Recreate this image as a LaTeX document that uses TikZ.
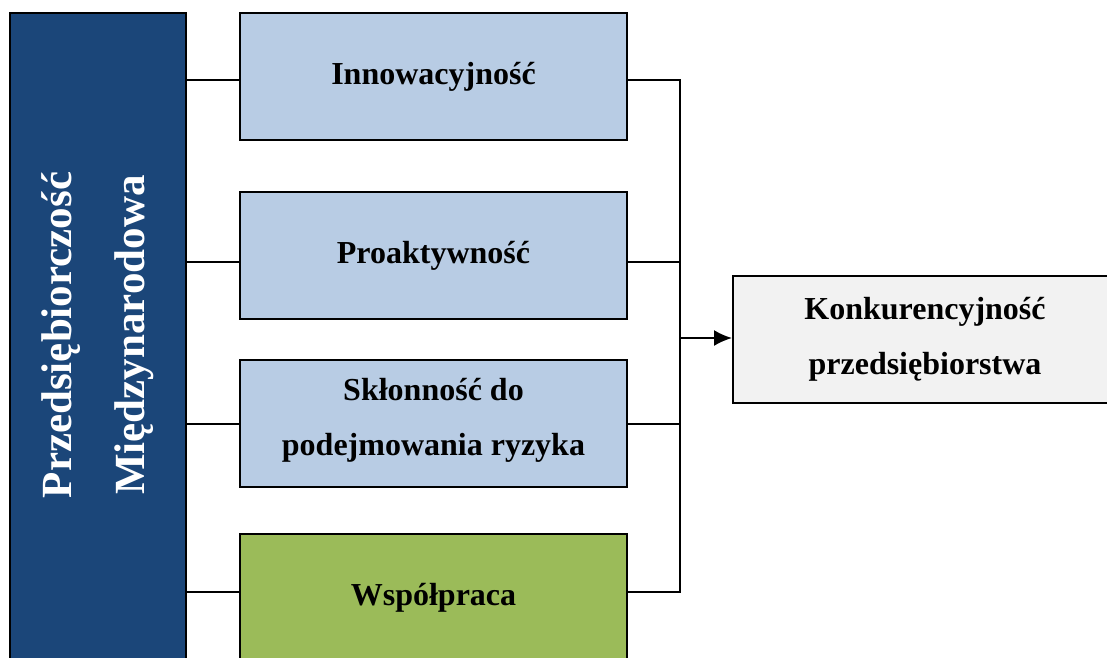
\documentclass[tikz,border=0pt]{standalone}
\usepackage{fontspec}
\setmainfont{Liberation Serif}
\usetikzlibrary{arrows.meta}
\definecolor{darkblue}{HTML}{1B4679}
\definecolor{lightblue}{HTML}{B8CCE4}
\definecolor{olivegreen}{HTML}{9BBB59}
\definecolor{lightgray}{HTML}{F2F2F2}
\tikzset{
  boxfont/.style={font=\fontsize{32}{55}\selectfont\bfseries},
  box/.style={draw=black, line width=2pt, minimum width=387pt, minimum height=127pt, inner sep=0pt, align=center, boxfont},
  conn/.style={draw=black, line width=2pt},
}
\begin{document}
\begin{tikzpicture}[x=1pt,y=-1pt]
\useasboundingbox (0,0) rectangle (1107,657);
% left column
\node[draw=black, line width=2pt, fill=darkblue, minimum width=176pt, minimum height=690pt, inner sep=0pt] (L) at (98,358) {};
\node[rotate=90, text=white, align=center, font=\fontsize{43}{73}\selectfont\bfseries] (Ltext) at (98,335) {Przedsiębiorczość\\Międzynarodowa};
% middle boxes
\node[box, fill=lightblue] (B1) at (433.5,76.5) {Innowacyjność};
\node[box, fill=lightblue] (B2) at (433.5,255.5) {Proaktywność};
\node[box, fill=lightblue, label={[align=center, boxfont, yshift=3pt]center:Skłonność do\\podejmowania ryzyka}] (B3) at (433.5,423.5) {};
\node[box, fill=olivegreen] (B4) at (433.5,597.5) {\raisebox{5pt}{Współpraca}};
% right box
\node[box, fill=lightgray, minimum width=384pt] (R) at (925,339.5) {Konkurencyjność\\przedsiębiorstwa};
% junction
\coordinate (J1) at (680,80);
\coordinate (J2) at (680,262);
\coordinate (J3) at (680,424);
\coordinate (J4) at (680,592);
\coordinate (JA) at (680,338);
% left connectors
\draw[conn] (L.east |- J1) -- (B1.west |- J1);
\draw[conn] (L.east |- J2) -- (B2.west |- J2);
\draw[conn] (L.east |- J3) -- (B3.west |- J3);
\draw[conn] (L.east |- J4) -- (B4.west |- J4);
% right connectors
\draw[conn] (B1.east |- J1) -- (J1) -- (J4) -- (B4.east |- J4);
\draw[conn] (B2.east |- J2) -- (J2);
\draw[conn] (B3.east |- J3) -- (J3);
\draw[conn, -{Latex[length=18pt,width=16pt]}] (JA) -- (R.west |- JA);
\end{tikzpicture}
\end{document}
